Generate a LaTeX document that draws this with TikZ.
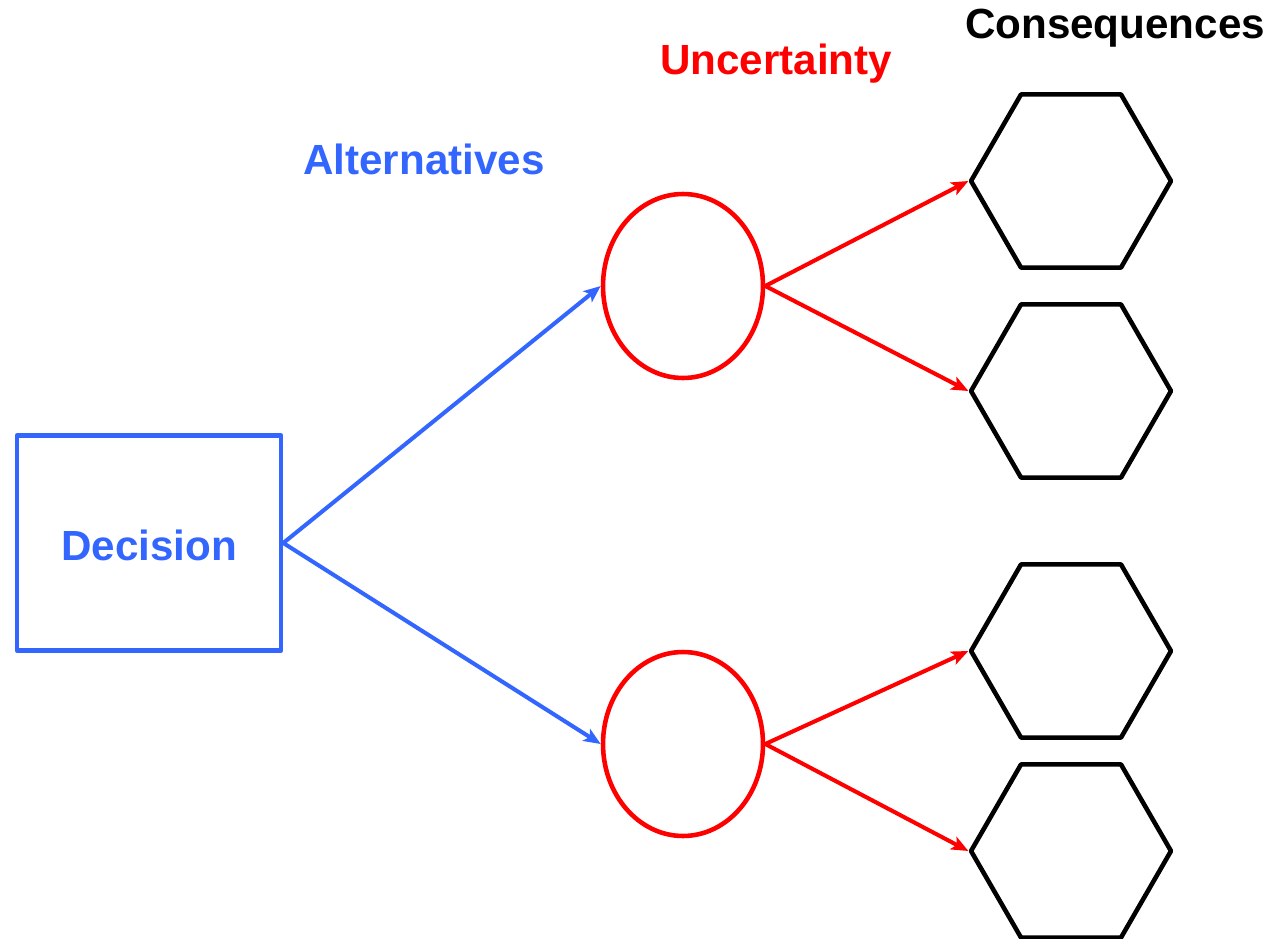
\documentclass[tikz,border=0pt]{standalone}
\usepackage{fontspec}
\setmainfont{Liberation Sans}
\usepackage{tikz}
\usetikzlibrary{arrows.meta,shapes}
\definecolor{altblue}{RGB}{51,102,255}
\tikzstyle{decision}=[rectangle,draw=altblue,line width=2.6pt,text=altblue,
  			  line join=round,minimum width=5.28cm,minimum height=4.3cm]
\tikzstyle{chance}=[ellipse,draw=red,line width=2.6pt,minimum width=3.2cm,
  			  minimum height=3.68cm,inner sep=0pt]
\tikzstyle{outcome}=[regular polygon,regular polygon sides=6,draw=black,
  			  line width=2.6pt,line join=round,minimum size=4cm,inner sep=0pt]
\tikzstyle{heading}=[anchor=base,inner sep=0pt]
\tikzstyle{altarrow}=[->,line width=2.3pt,draw=altblue]
\tikzstyle{uncarrow}=[->,line width=2.3pt,draw=red]

\begin{document}
\begin{tikzpicture}[x=0.02cm,y=-0.02cm,
                    >={Stealth[length=0.34cm,width=0.28cm,inset=0.08cm]},
                    font=\bfseries\fontsize{24}{28}\selectfont]

  \useasboundingbox (0,0) rectangle (1274,939);

	\node[decision] (dec) at (149,543) {};
	\node[heading,text=altblue] (dectext) at (149,560) {Decision};
	\node[chance] (u1) at (683,286) {};
	\node[chance] (u2) at (683,744) {};
	\node[outcome] (c1) at (1071,181) {};
	\node[outcome] (c2) at (1071,391) {};
	\node[outcome] (c3) at (1071,651) {};
	\node[outcome] (c4) at (1071,851) {};

	\node[heading,text=altblue] (alt) at (424,175) {Alternatives};
	\node[heading,text=red] (unc) at (776,75) {Uncertainty};
	\node[heading] (cons) at (1115,39) {Consequences};

  \path (dec.east) edge [altarrow] (u1.west)
        (dec.east) edge [altarrow] (u2.west);
  \path (u1.east) edge [uncarrow] (c1.west)
        (u1.east) edge [uncarrow] (c2.west)
        (u2.east) edge [uncarrow] (c3.west)
        (u2.east) edge [uncarrow] (c4.west);

\end{tikzpicture}
\end{document}
